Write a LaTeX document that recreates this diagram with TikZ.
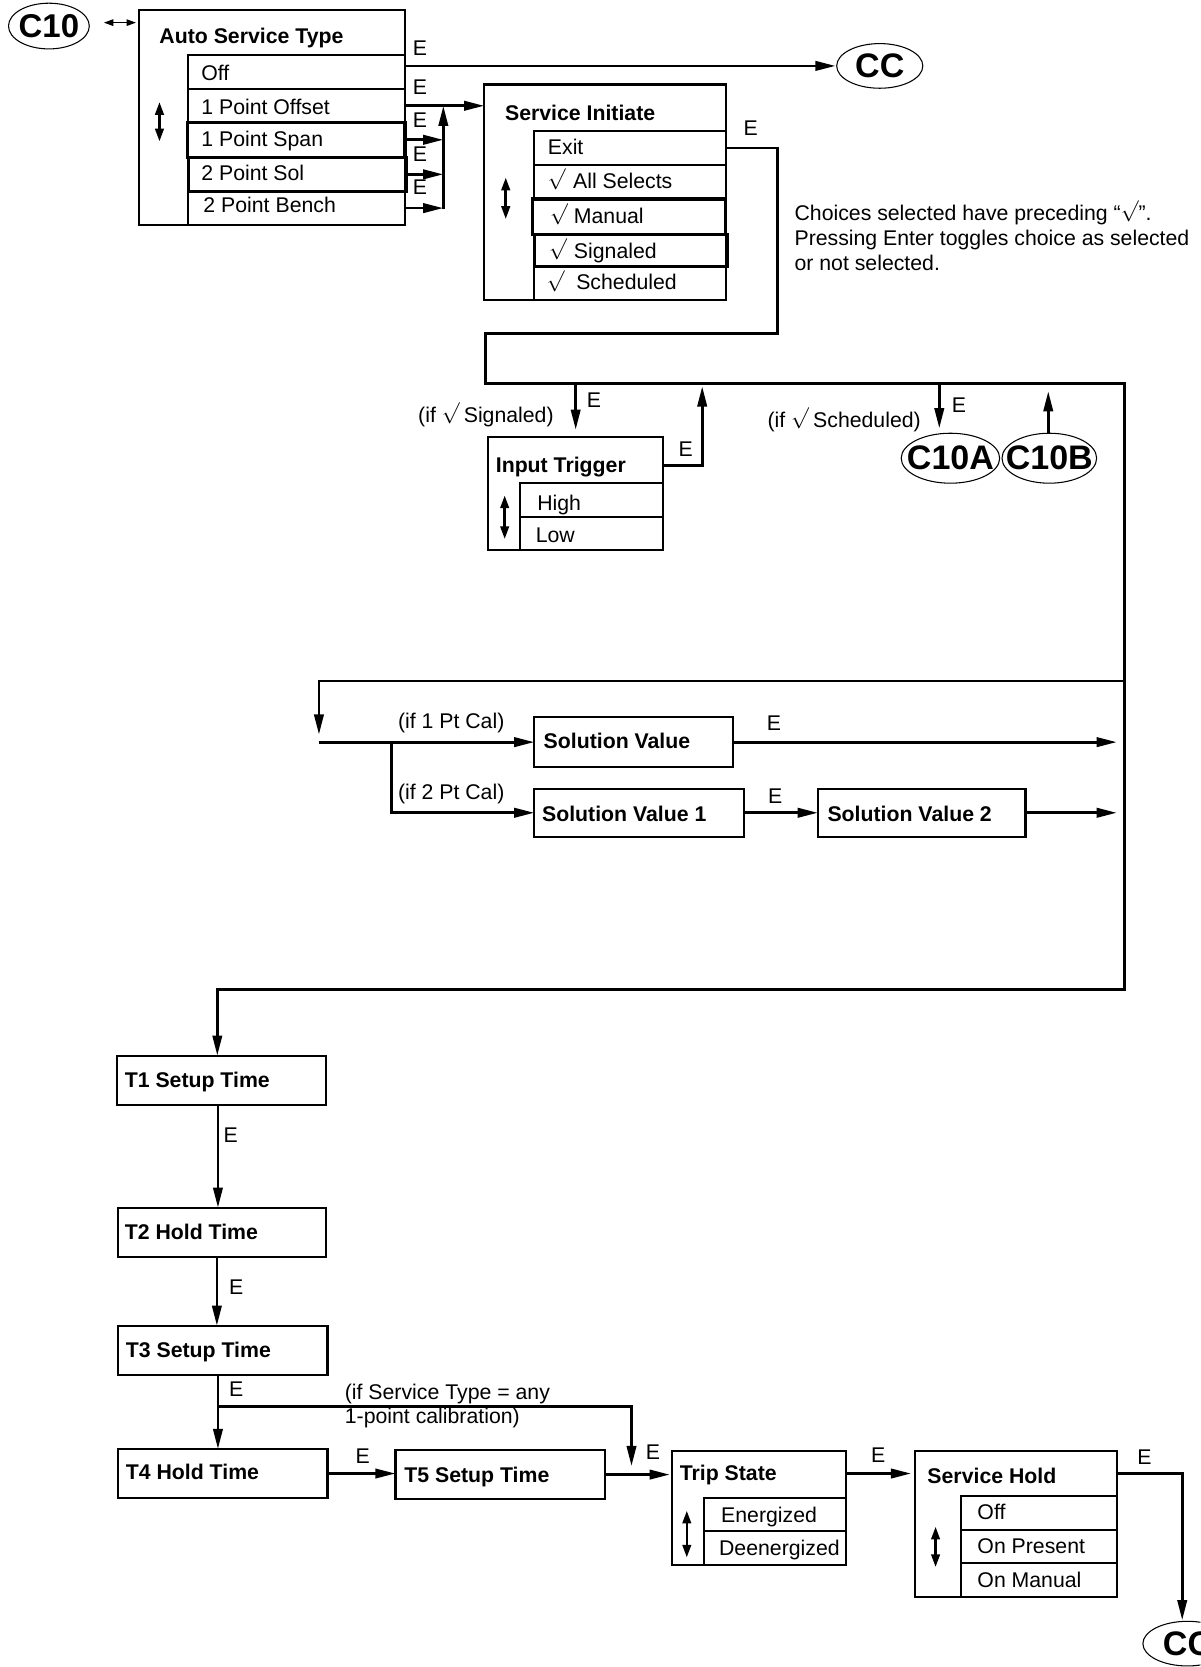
\documentclass[tikz,border=0pt]{standalone}
\usepackage{fontspec}
\setmainfont{Liberation Sans}
\usetikzlibrary{arrows.meta,shapes.geometric}
\newcommand\bxn[6]{\node[#1, minimum width=#5*0.5pt, minimum height=#6*0.5pt] (#2) at (#3,#4) {};}
\newcommand\txn[5]{\node[#1] (#2) at (#3,#4) {#5};}
\newcommand\elln[5]{\node[el, minimum width=#4*0.5pt, minimum height=#5*0.5pt] (#1) at (#2,#3) {};}
\newcommand\rad{\raisebox{1.6pt}{$\surd$}}
\begin{document}
\begin{tikzpicture}[x=0.5pt,y=-0.5pt,
  bx/.style={draw, rectangle, line width=1pt, inner sep=0pt, outer sep=0pt, anchor=north west},
  tk/.style={bx, line width=1.5pt},
  tx/.style={anchor=base west, inner sep=0pt, font=\fontsize{10}{12}\selectfont},
  tb/.style={anchor=base west, inner sep=0pt, font=\fontsize{10}{12}\selectfont\bfseries},
  el/.style={ellipse, draw, line width=0.5pt, inner sep=0pt, outer sep=0pt},
  et/.style={inner sep=0pt, font=\fontsize{16}{18}\selectfont\bfseries},
  ar/.style={line width=1.3pt, -{Triangle[length=9.5pt,width=4.4pt]}},
  ud/.style={line width=1.2pt, {Triangle[length=6pt,width=4pt]}-{Triangle[length=6pt,width=4pt]}},
  dbl/.style={line width=0.8pt, {Triangle[length=4.5pt,width=3pt]}-{Triangle[length=4.5pt,width=3pt]}}
]
\useasboundingbox (0,0) rectangle (1129,1568);
\fill[white] (0,0) rectangle (1129,1568);
\clip (0,0) rectangle (1129,1568);

% ---------- Auto Service Type ----------
\bxn{bx}{ast}{131}{9.5}{250}{202}
\bxn{bx}{off}{177}{52}{204}{32}
\bxn{bx}{pof}{177}{84}{204}{31}
\bxn{bx}{bench}{177}{180}{204}{31.5}
\bxn{tk}{psp}{176}{115}{205}{33}
\bxn{tk}{sol}{177}{148}{205}{32}
\txn{tb}{tast}{149.6}{41}{Auto Service Type}
\txn{tx}{toff}{189}{76}{Off}
\txn{tx}{tpof}{189}{107.5}{1 Point Offset}
\txn{tx}{tpsp}{189}{138}{1 Point Span}
\txn{tx}{tsol}{189}{170}{2 Point Sol}
\txn{tx}{tbench}{191}{200}{2 Point Bench}
\draw[ud] (150,96) -- (150,133);

% ---------- Service Initiate ----------
\bxn{bx}{si}{455.5}{79.5}{227}{203}
\bxn{bx}{exit}{502.6}{123.3}{180}{32}
\bxn{bx}{alls}{502.6}{155.2}{180}{32}
\bxn{bx}{sch}{502.6}{250.9}{180}{31.6}
\bxn{tk}{man}{501}{187.2}{181.6}{33.2}
\bxn{tk}{sig}{502.6}{220.4}{181.4}{30.5}
\txn{tb}{tsi}{474.7}{113}{Service Initiate}
\txn{tx}{texit}{515}{145.6}{Exit}
\txn{tx}{talls}{515}{177.3}{\rad\hspace{3.5pt}All Selects}
\txn{tx}{tman}{517}{210.2}{\rad\hspace{2.9pt}Manual}
\txn{tx}{tsig}{516}{242.8}{\rad\hspace{3.4pt}Signaled}
\txn{tx}{tsch}{514}{272.6}{\rad\hspace{5.5pt}Scheduled}
\draw[ud] (475.7,167) -- (475.7,206);

\txn{tx}{note1}{747}{207}{Choices selected have preceding “\rad”.}
\txn{tx}{note2}{747}{230.5}{Pressing Enter toggles choice as selected}
\txn{tx}{note3}{747}{254}{or not selected.}

% ---------- Input Trigger ----------
\bxn{bx}{it}{459.4}{410.8}{164.2}{106.7}
\bxn{bx}{high}{489}{454.7}{134.6}{31.3}
\bxn{bx}{low}{489}{486}{134.6}{31.5}
\txn{tb}{tit}{466}{444.5}{Input Trigger}
\txn{tx}{thigh}{505}{480}{High}
\txn{tx}{tlow}{503.6}{510.3}{Low}
\draw[ud] (474.7,466) -- (474.7,507);
\txn{tx}{tifsig}{393}{397}{(if \rad\hspace{2pt}Signaled)}
\txn{tx}{tifsch}{721.6}{402}{(if \rad\hspace{2pt}Scheduled)}

% ---------- connector ellipses ----------
\elln{c10}{46}{24.5}{76}{43}
\elln{cc}{827.5}{62}{81}{42}
\elln{c10a}{894}{431}{92.6}{47}
\elln{c10b}{987}{431}{89}{47}
\elln{cc2}{1117}{1546}{84}{42}
\node[et, font=\fontsize{15.5}{18}\selectfont\bfseries] (tc10) at (c10.center) {C10};
\node[et] (tcc) at (cc.center) {CC};
\node[et] (tc10a) at (c10a.center) {C10A};
\node[et] (tc10b) at (c10b.center) {C10B};
\node[et] (tcc2) at (cc2.center) {CC};

% ---------- Solution values ----------
\bxn{bx}{sv}{502.6}{674.8}{186.6}{46.5}
\bxn{bx}{sv1}{502.6}{742}{196.8}{45}
\bxn{bx}{sv2}{769.3}{742}{195.3}{45}
\txn{tb}{tsv}{511}{704.5}{Solution Value}
\txn{tb}{tsv1}{509.5}{773}{Solution Value 1}
\txn{tb}{tsv2}{778}{773}{Solution Value 2}
\txn{tx}{tif1}{374}{685}{(if 1 Pt Cal)}
\txn{tx}{tif2}{374}{752}{(if 2 Pt Cal)}

% ---------- T boxes ----------
\bxn{bx}{t1}{110.3}{993}{196.2}{46}
\bxn{bx}{t2}{111}{1136}{196}{46}
\bxn{bx}{t3}{111}{1247}{197}{46}
\bxn{bx}{t4}{111}{1363}{197}{46}
\bxn{bx}{t5}{372}{1364}{197}{46}
\txn{tb}{tt1}{117}{1023}{T1 Setup Time}
\txn{tb}{tt2}{117}{1166}{T2 Hold Time}
\txn{tb}{tt3}{118}{1277}{T3 Setup Time}
\txn{tb}{tt4}{118}{1392}{T4 Hold Time}
\txn{tb}{tt5}{380}{1394}{T5 Setup Time}
\txn{tx}{tany1}{324}{1316}{(if Service Type = any}
\txn{tx}{tany2}{324}{1339}{1-point calibration)}

% ---------- Trip State ----------
\bxn{bx}{trip}{632}{1365}{164}{107.4}
\bxn{bx}{en}{662}{1408.7}{134}{31.7}
\bxn{bx}{de}{662}{1440.4}{134}{32}
\txn{tb}{ttrip}{639}{1393}{Trip State}
\txn{tx}{ten}{678}{1431.7}{Energized}
\txn{tx}{tde}{676}{1462.7}{Deenergized}
\draw[ud] (646,1421) -- (646,1465);

% ---------- Service Hold ----------
\bxn{bx}{hold}{861}{1365}{190}{137}
\bxn{bx}{hoff}{904}{1407}{147}{32}
\bxn{bx}{hpr}{904}{1439}{147}{31.5}
\bxn{bx}{hma}{904}{1470.5}{147}{31.5}
\txn{tb}{thold}{872}{1395}{Service Hold}
\txn{tx}{thoff}{919}{1429}{Off}
\txn{tx}{thpr}{919}{1461.5}{On Present}
\txn{tx}{thma}{919}{1493.5}{On Manual}
\draw[ud] (880,1436) -- (880,1474);

% ---------- E labels ----------
\txn{tx}{e1}{388}{52.5}{E}
\txn{tx}{e2}{388}{89}{E}
\txn{tx}{e3}{388}{119.5}{E}
\txn{tx}{e4}{388}{152}{E}
\txn{tx}{e5}{388}{183}{E}
\txn{tx}{e6}{699}{127}{E}
\txn{tx}{e7}{551.5}{383}{E}
\txn{tx}{e8}{638}{429}{E}
\txn{tx}{e9}{895}{388}{E}
\txn{tx}{e10}{721}{687.5}{E}
\txn{tx}{e11}{722}{756}{E}
\txn{tx}{e12}{210}{1075}{E}
\txn{tx}{e13}{215}{1218}{E}
\txn{tx}{e14}{215}{1314}{E}
\txn{tx}{e15}{334}{1377}{E}
\txn{tx}{e16}{607}{1373}{E}
\txn{tx}{e17}{819}{1376}{E}
\txn{tx}{e18}{1069.5}{1377.4}{E}

% ---------- helper coordinates ----------
\coordinate (yc) at (0,21.3);
\coordinate (vm) at (417,196.5);
\coordinate (k1) at (731,313.5);
\coordinate (k2) at (457,361);
\coordinate (k3) at (1057.5,930.5);
\coordinate (k4) at (1057.5,640.5);
\coordinate (k5) at (300,691);
\coordinate (xs1) at (300,0);
\coordinate (xs2) at (368,0);
\coordinate (k8) at (541.5,361);
\coordinate (k9) at (660.5,437.5);
\coordinate (k10) at (883.5,361);
\coordinate (k11) at (986,368);
\coordinate (xa) at (205,0);
\coordinate (xb) at (204,0);
\coordinate (k12) at (205,1323);
\coordinate (k13) at (594,1379);
\coordinate (k14) at (0,1386);
\coordinate (k15) at (1112,1524);

% ---------- connectors ----------
\draw[dbl, shorten <=6.8pt, shorten >=1.5pt] (c10.east |- yc) -- (ast.west |- yc);
\draw[ar, shorten >=0.5pt] (ast.east |- cc.west) -- (cc.west);
\draw[ar] (pof.east) -- (pof.east -| si.west);
\draw[ar] (psp.east) -- (psp.east -| vm);
\draw[ar] (sol.east) -- (sol.east -| vm);
\draw[ar] (bench.east) -- (bench.east -| vm);
\draw[ar] (vm) -- (vm |- pof.east);

\draw[ar] (exit.east) -| (k1) -| (k2) -- (k2 -| k3) -- (k3) -| ([xshift=-2pt]t1.north);
\draw[ar] (k4) -| (k5);
\draw[ar] (xs1 |- sv.west) -- (sv.west);
\draw[ar] (xs2 |- sv.west) |- (sv1.west);
\draw[ar, shorten >=3.5pt] (sv.east) -- (sv.east -| k4);
\draw[ar] (sv1.east) -- (sv2.west);
\draw[ar, shorten >=3.5pt] (sv2.east) -- (sv2.east -| k4);

\draw[ar, shorten >=3.3pt] (k8) -- (k8 |- it.north);
\draw[ar, shorten >=1.2pt] (k9 -| it.east) -- (k9) -- (k9 |- k2);
\draw[ar, shorten >=2.3pt] (k10) -- (k10 |- c10a.north);
\draw[ar] (k11 |- c10b.north) -- (k11);

\draw[ar] (xa |- t1.south) -- (xa |- t2.north);
\draw[ar] (xb |- t2.south) -- (xb |- t3.north);
\draw[ar] (xa |- t3.south) -- (xa |- t4.north);
\draw[ar] (k12) -| (k13);
\draw[ar] (t4.east) -- (t4.east -| t5.west);
\draw[ar, shorten >=1pt] (t5.east) -- (t5.east -| trip.west);
\draw[ar, shorten >=2pt] (trip.east |- k14) -- (hold.west |- k14);
\draw[ar] (hold.east |- k14) -| (k15);
\end{tikzpicture}
\end{document}
